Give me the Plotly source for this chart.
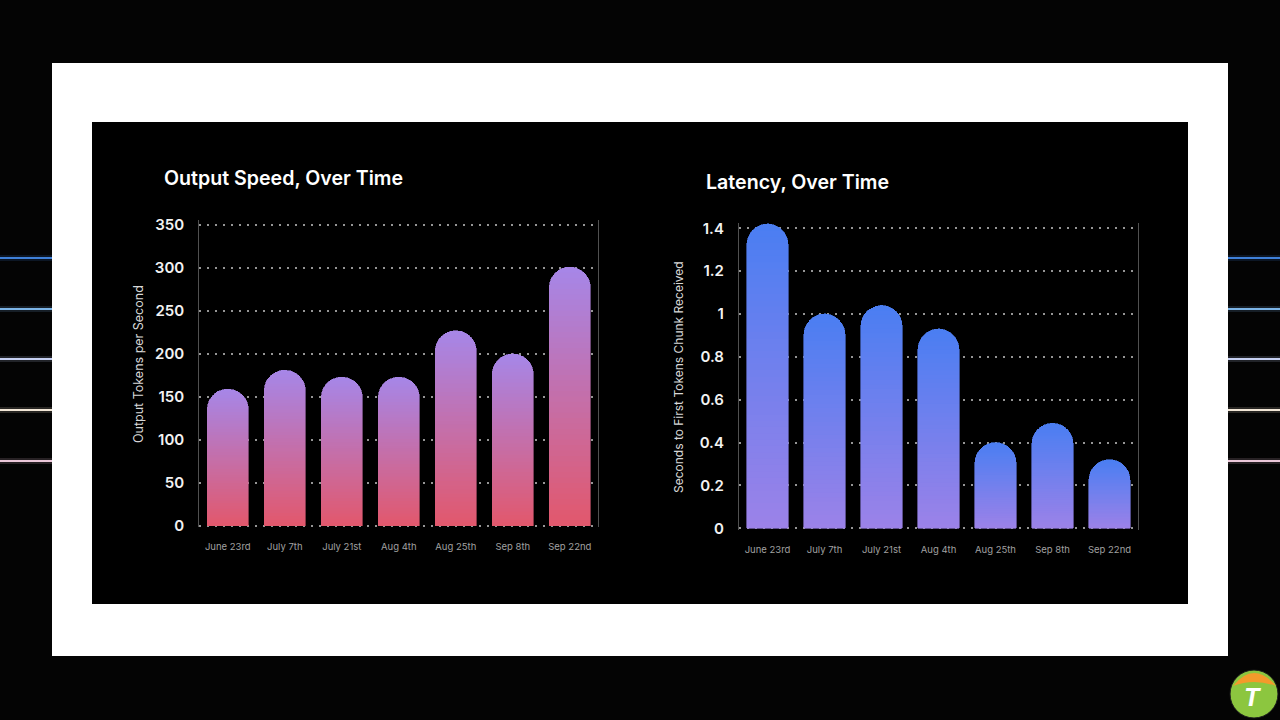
import plotly.graph_objects as go

# ---------------- data ----------------
dates = ["June 23rd", "July 7th", "July 21st", "Aug 4th", "Aug 25th", "Sep 8th", "Sep 22nd"]
speed_values = [159, 181, 173, 173, 227, 200, 301]          # output tokens per second
latency_values = [1.42, 1.00, 1.04, 0.93, 0.40, 0.49, 0.32]  # seconds to first tokens chunk
speed_ticks = [0, 50, 100, 150, 200, 250, 300, 350]
latency_ticks = [0, 0.2, 0.4, 0.6, 0.8, 1.0, 1.2, 1.4]
latency_ticktext = ["0", "0.2", "0.4", "0.6", "0.8", "1", "1.2", "1.4"]

W, H = 1280, 720
FONT = "Inter"
N_SEG = 48  # vertical gradient steps


def px_x(p):
    return p / W


def px_y(p):
    return 1 - p / H


def lerp(c1, c2, t):
    return "rgb(%d,%d,%d)" % tuple(round(a + (b - a) * t) for a, b in zip(c1, c2))


fig = go.Figure()


def add_gradient_bars(values, xaxis, yaxis, bottom_rgb, top_rgb):
    for k in range(N_SEG):
        t = (k + 0.5) / N_SEG
        col = lerp(bottom_rgb, top_rgb, t)
        fig.add_trace(go.Bar(
            x=dates,
            y=[v / N_SEG for v in values],
            marker=dict(color=col, line=dict(color=col, width=0.6), cornerradius="50%"),
            xaxis=xaxis, yaxis=yaxis, showlegend=False, hoverinfo="skip",
        ))


add_gradient_bars(speed_values, "x", "y", (226, 88, 108), (166, 134, 232))
add_gradient_bars(latency_values, "x2", "y2", (156, 130, 232), (74, 126, 242))

grid = dict(showgrid=True, gridcolor="rgba(175,175,175,0.85)", gridwidth=1.6,
            griddash="1.6px,6.4px", zeroline=False, showline=True, linecolor="#505050",
            linewidth=1.2, mirror=True, ticks="", ticklabelstandoff=11, automargin=False,
            tickfont=dict(family=FONT, size=15, color="#f2f2f2", weight=600))
xcommon = dict(showgrid=False, zeroline=False, showline=False, ticks="", automargin=False,
               range=[-0.5, 6.5], ticklabelstandoff=12,
               tickfont=dict(family=FONT, size=9.5, color="#a0a0a0"))

fig.update_layout(
    width=W, height=H,
    margin=dict(l=0, r=0, t=0, b=0, pad=0, autoexpand=False),
    paper_bgcolor="#040404", plot_bgcolor="rgba(0,0,0,0)",
    barmode="stack", bargap=0.28, showlegend=False,
    xaxis=dict(domain=[px_x(199.3), px_x(598.3)], anchor="y", **xcommon),
    yaxis=dict(domain=[px_y(527.4), px_y(219.8)], anchor="x", range=[-2, 356],
               tickvals=speed_ticks, **grid),
    xaxis2=dict(domain=[px_x(739), px_x(1138)], anchor="y2", **xcommon),
    yaxis2=dict(domain=[px_y(530.4), px_y(222.9)], anchor="x2", range=[-0.01, 1.425],
                tickvals=latency_ticks, ticktext=latency_ticktext, **grid),
)

shapes = []
# white frame and black panel
shapes.append(dict(type="rect", xref="paper", yref="paper", x0=px_x(52), x1=px_x(1228),
                   y0=px_y(656), y1=px_y(63), fillcolor="#ffffff", line=dict(width=0), layer="below"))
shapes.append(dict(type="rect", xref="paper", yref="paper", x0=px_x(92), x1=px_x(1188),
                   y0=px_y(604), y1=px_y(122), fillcolor="#000000", line=dict(width=0), layer="below"))
# decorative glowing lines at the sides
side_lines = [(258, "#3f80d8"), (309, "#7cb4e6"), (359, "#c6d0f2"), (410, "#f2e6d6"), (461, "#ecc8da")]
for yy, col in side_lines:
    for xa, xb in [(0, 52), (1228, 1280)]:
        shapes.append(dict(type="line", xref="paper", yref="paper", x0=px_x(xa), x1=px_x(xb),
                           y0=px_y(yy), y1=px_y(yy), line=dict(color=col, width=6), opacity=0.15, layer="below"))
        shapes.append(dict(type="line", xref="paper", yref="paper", x0=px_x(xa), x1=px_x(xb),
                           y0=px_y(yy), y1=px_y(yy), line=dict(color=col, width=2), layer="below"))
# logo
shapes.append(dict(type="circle", xref="paper", yref="paper", x0=px_x(1230), x1=px_x(1278),
                   y0=px_y(718), y1=px_y(670), fillcolor="#8cc63f", line=dict(color="#1a1a1a", width=1)))
shapes.append(dict(type="path", xref="paper", yref="paper",
                   path="M %f %f Q %f %f %f %f Q %f %f %f %f Z" % (
                       px_x(1233), px_y(686), px_x(1254), px_y(660), px_x(1276), px_y(686),
                       px_x(1254), px_y(678), px_x(1233), px_y(686)),
                   fillcolor="#f39a2b", line=dict(width=0)))
fig.update_layout(shapes=shapes)

ann = []
ann.append(dict(text="Output Speed, Over Time", x=px_x(162), y=px_y(178), xref="paper", yref="paper",
                xanchor="left", yanchor="middle", showarrow=False,
                font=dict(family=FONT, size=19.6, color="#ffffff", weight=600)))
ann.append(dict(text="Latency, Over Time", x=px_x(704), y=px_y(182), xref="paper", yref="paper",
                xanchor="left", yanchor="middle", showarrow=False,
                font=dict(family=FONT, size=19.6, color="#ffffff", weight=600)))
ann.append(dict(text="Output Tokens per Second", x=px_x(138), y=px_y(364), xref="paper", yref="paper",
                xanchor="center", yanchor="middle", showarrow=False, textangle=-90,
                font=dict(family=FONT, size=12.5, color="#d8d8d8")))
ann.append(dict(text="Seconds to First Tokens Chunk Received", x=px_x(678), y=px_y(377), xref="paper",
                yref="paper", xanchor="center", yanchor="middle", showarrow=False, textangle=-90,
                font=dict(family=FONT, size=12, color="#d8d8d8")))
ann.append(dict(text="<b><i>T</i></b>", x=px_x(1253), y=px_y(697), xref="paper", yref="paper",
                xanchor="center", yanchor="middle", showarrow=False,
                font=dict(family="Roboto", size=26, color="#ffffff")))
fig.update_layout(annotations=ann)

fig.write_html("out.html")
